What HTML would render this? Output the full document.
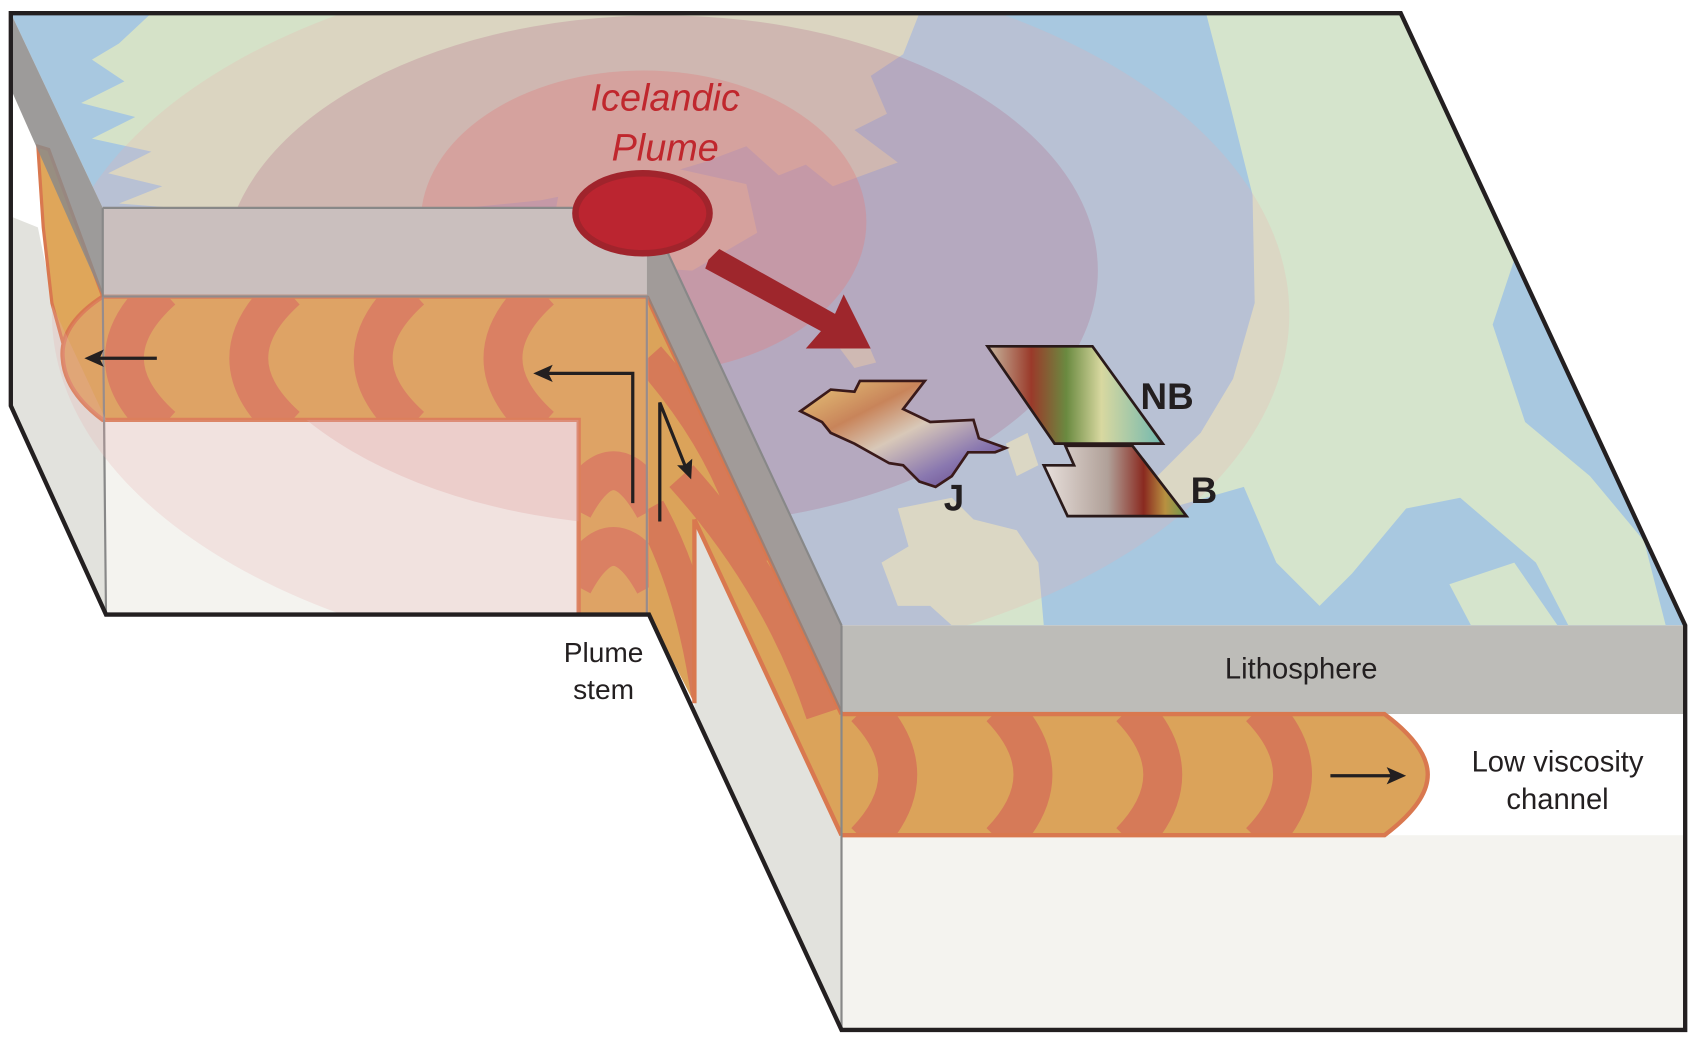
<!DOCTYPE html>
<html><head><meta charset="utf-8"><style>
html,body{margin:0;padding:0;background:#fff}
svg{display:block}
text{font-family:"Liberation Sans",Arial,sans-serif}
</style></head><body>
<svg width="1696" height="1042" viewBox="0 0 1568 963" xmlns="http://www.w3.org/2000/svg">
<defs>
<clipPath id="top"><path d="M10,12 L1295,12 L1558,578 L778,578 L598,192 L95,192 Z"/></clipPath>
<clipPath id="chL"><path d="M598,274 L95,274 Q55,300 58,331 Q60,362 95,388 L535,388 L535,568 L600,568 L600,274 Z"/></clipPath>
<clipPath id="chR"><path d="M778,660 L1280,660 Q1320,690 1320,716 Q1320,742 1280,772 L778,772 Z"/></clipPath>
<clipPath id="chD"><path d="M598,274 L778,660 L778,772 L642,480 L642,650 L600,568 Z"/></clipPath>
<clipPath id="lf"><path d="M98,388 L535,388 L535,568 L98,568 Z M10,200 L98,388 L98,568 L10,375 Z"/></clipPath>
<linearGradient id="gJ" x1="0" y1="0" x2="1" y2="1"><stop offset="0" stop-color="#e8c87a"/><stop offset="0.3" stop-color="#c8845a"/><stop offset="0.5" stop-color="#d8c8b8"/><stop offset="0.75" stop-color="#8a78b0"/><stop offset="1" stop-color="#5a3a80"/></linearGradient>
<linearGradient id="gNB" x1="0" y1="0" x2="1" y2="0"><stop offset="0" stop-color="#c8b8a0"/><stop offset="0.25" stop-color="#9a3a2a"/><stop offset="0.45" stop-color="#6a8a40"/><stop offset="0.65" stop-color="#d8d8a0"/><stop offset="1" stop-color="#70b8b0"/></linearGradient>
<linearGradient id="gB" x1="0" y1="0" x2="1" y2="0"><stop offset="0" stop-color="#e8e0dc"/><stop offset="0.45" stop-color="#b0a098"/><stop offset="0.7" stop-color="#8a2a20"/><stop offset="0.85" stop-color="#b89040"/><stop offset="1" stop-color="#6a9a50"/></linearGradient>
</defs>

<g clip-path="url(#top)">
<rect x="0" y="0" width="1568" height="600" fill="#a8c8e0"/>
<!-- Greenland -->
<path d="M140,12 L850,12 L835,50 L805,70 L820,105 L790,120 L830,150 L770,172 L745,152 L720,162 L690,135 L650,150 L600,165 L500,185 L400,195 L200,195 L110,188 L150,172 L100,160 L140,140 L85,128 L125,108 L75,95 L115,75 L85,55 L110,40 Z" fill="#d5e2c8"/>
<!-- Iceland -->
<path d="M520,160 L600,150 L690,170 L700,215 L640,250 L560,245 L510,215 Z" fill="#d5e2c8"/>
<!-- Scandinavia -->
<path d="M1115,12 L1295,12 L1400,240 L1380,300 L1410,390 L1470,440 L1520,500 L1540,578 L1450,578 L1420,520 L1350,460 L1300,470 L1250,530 L1220,560 L1180,520 L1150,450 L1080,470 L1070,440 L1110,400 L1140,350 L1160,280 L1158,180 L1138,100 Z" fill="#d5e4cc"/>
<path d="M1340,540 L1400,520 L1440,578 L1360,578 Z" fill="#d5e4cc"/>
<!-- British Isles -->
<path d="M830,470 L880,460 L900,480 L940,490 L960,520 L965,578 L880,578 L860,560 L830,560 L815,520 L840,505 Z" fill="#d5e4cc"/>
<path d="M930,410 L950,400 L960,430 L940,440 Z" fill="#d5e4cc"/>
<path d="M775,320 L800,312 L810,335 L790,340 Z" fill="#d5e4cc"/>
<ellipse cx="620" cy="290" rx="572" ry="328" fill="#f0a8a8" fill-opacity="0.22"/>
<ellipse cx="611" cy="250" rx="404" ry="236" fill="#b06a88" fill-opacity="0.28"/>
<ellipse cx="595" cy="205" rx="206" ry="140" fill="#e08080" fill-opacity="0.38"/>
</g>

<path d="M10,82 L95,274 L98,388 L98,568 L10,375 Z" fill="#e2e2dd"/>
<path d="M10,82 L95,274 L60,331 L35,210 L10,200 Z" fill="#ffffff"/>
<path d="M35,135 L45,138 L95,274 L62,331 L48,280 L40,210 Z" fill="#dfa65a" stroke="#d9784f" stroke-width="3"/>
<rect x="98" y="388" width="437" height="180" fill="#f4f3ef"/>
<path d="M642,480 L778,772 L778,952 L642,660 Z" fill="#e2e2dd"/>
<rect x="778" y="578" width="780" height="82" fill="#bdbcb8"/>
<rect x="778" y="660" width="780" height="112" fill="#ffffff"/>
<rect x="778" y="772" width="780" height="180" fill="#f4f3ef"/>

<g>
<path d="M598,274 L95,274 Q55,300 58,331 Q60,362 95,388 L535,388 L535,568 L600,568 L600,274 Z" fill="#dba35a"/>
<g clip-path="url(#chL)" stroke="#d67a58" stroke-width="36" fill="none">
<path d="M150,268 Q80,331 150,394"/>
<path d="M265,268 Q195,331 265,394"/>
<path d="M380,268 Q310,331 380,394"/>
<path d="M500,268 Q430,331 500,394"/>
<path d="M530,470 Q567,400 605,470"/>
<path d="M530,540 Q567,470 605,540"/>
</g>
<path d="M598,274 L95,274 Q55,300 58,331 Q60,362 95,388 L535,388 L535,568" fill="none" stroke="#d9784f" stroke-width="4"/>
<path d="M598,274 L778,660 L778,772 L642,480 L642,650 L600,568 Z" fill="#dba35a"/>
<g clip-path="url(#chD)" stroke="#d67a58" stroke-width="30" fill="none">
<path d="M600,330 Q680,420 700,520"/>
<path d="M630,440 Q720,540 760,660"/>
<path d="M600,470 Q650,560 660,700"/>
</g>
<path d="M598,274 L778,660 M642,480 L778,772 M642,480 L642,650" fill="none" stroke="#d9784f" stroke-width="4"/>
<path d="M778,660 L1280,660 Q1320,690 1320,716 Q1320,742 1280,772 L778,772 Z" fill="#dba35a"/>
<g clip-path="url(#chR)" stroke="#d67a58" stroke-width="36" fill="none">
<path d="M800,654 Q860,716 800,778"/>
<path d="M925,654 Q985,716 925,778"/>
<path d="M1045,654 Q1105,716 1045,778"/>
<path d="M1165,654 Q1225,716 1165,778"/>
</g>
<path d="M778,660 L1280,660 Q1320,690 1320,716 Q1320,742 1280,772 L778,772" fill="none" stroke="#d9784f" stroke-width="4"/>
</g>

<path d="M10,12 L95,192 L95,274 L10,82 Z" fill="#8c8a88" fill-opacity="0.85"/>
<rect x="95" y="192" width="503" height="82" fill="#b8aaa8" fill-opacity="0.75"/>
<path d="M598,192 L778,578 L778,660 L598,274 Z" fill="#8a8280" fill-opacity="0.8"/>
<path d="M95,192 L598,192 L778,578 M95,192 L95,274 L598,274 L598,568 M95,274 L98,568 M778,578 L778,952" fill="none" stroke="#888" stroke-width="2"/>
<g clip-path="url(#chL)"><ellipse cx="620" cy="290" rx="572" ry="328" fill="#f0a8a8" fill-opacity="0.15"/></g>
<g clip-path="url(#lf)"><ellipse cx="620" cy="290" rx="572" ry="328" fill="#e8b0b0" fill-opacity="0.25"/><ellipse cx="611" cy="250" rx="404" ry="236" fill="#e0a0a0" fill-opacity="0.3"/></g>

<ellipse cx="594" cy="197" rx="62" ry="37" fill="#bb2530" stroke="#a0242c" stroke-width="6"/>
<path d="M655,240 L665,230 L772,290 L780,272 L805,322 L745,322 L759,306 L652,248 Z" fill="#9e262c"/>

<path d="M740,380 L768,360 L790,362 L795,352 L855,352 L835,378 L860,390 L900,388 L905,405 L930,414 L920,418 L895,418 L880,440 L865,450 L850,445 L835,430 L822,428 L790,410 L768,400 L760,390 Z" fill="url(#gJ)" stroke="#3a1a1a" stroke-width="2.5"/>
<path d="M913,320 L1010,320 L1075,410 L975,410 Z" fill="url(#gNB)" stroke="#2a1a1a" stroke-width="2.5"/>
<path d="M965,430 L993,430 L985,412 L1047,412 L1097,477 L987,477 Z" fill="url(#gB)" stroke="#2a1a1a" stroke-width="2.5"/>

<path d="M10,12 L1295,12 L1558,578 L1558,952 L778,952 L600,568 L98,568 L10,375 Z" fill="none" stroke="#231f20" stroke-width="4"/>

<g stroke="#231f20" stroke-width="3" fill="none">
<path d="M145,331 L88,331"/>
<path d="M585,465 L585,345 L505,345"/>
<path d="M610,482 L610,372 L634,432"/>
<path d="M1230,717 L1288,717"/>
</g>
<g fill="#231f20">
<path d="M78,331 L96,323 L92,331 L96,339 Z"/>
<path d="M493,345 L511,337 L507,345 L511,353 Z"/>
<path d="M639,443 L626,430 L633,430 L640,424 Z"/>
<path d="M1300,717 L1282,709 L1286,717 L1282,725 Z"/>
</g>

<text x="615" y="102" text-anchor="middle" font-size="35" font-style="italic" fill="#c0272d">Icelandic</text>
<text x="615" y="148" text-anchor="middle" font-size="35" font-style="italic" fill="#c0272d">Plume</text>
<text x="1079" y="378" text-anchor="middle" font-size="34" font-weight="bold" fill="#231f20">NB</text>
<text x="1113" y="465" text-anchor="middle" font-size="34" fill="#231f20" font-weight="bold">B</text>
<text x="882" y="472" text-anchor="middle" font-size="34" fill="#231f20" font-weight="bold">J</text>
<text x="558" y="612" text-anchor="middle" font-size="26" fill="#231f20">Plume</text>
<text x="558" y="646" text-anchor="middle" font-size="26" fill="#231f20">stem</text>
<text x="1203" y="627" text-anchor="middle" font-size="27" fill="#231f20">Lithosphere</text>
<text x="1440" y="713" text-anchor="middle" font-size="27" fill="#231f20">Low viscosity</text>
<text x="1440" y="748" text-anchor="middle" font-size="27" fill="#231f20">channel</text>
</svg>
</body></html>
